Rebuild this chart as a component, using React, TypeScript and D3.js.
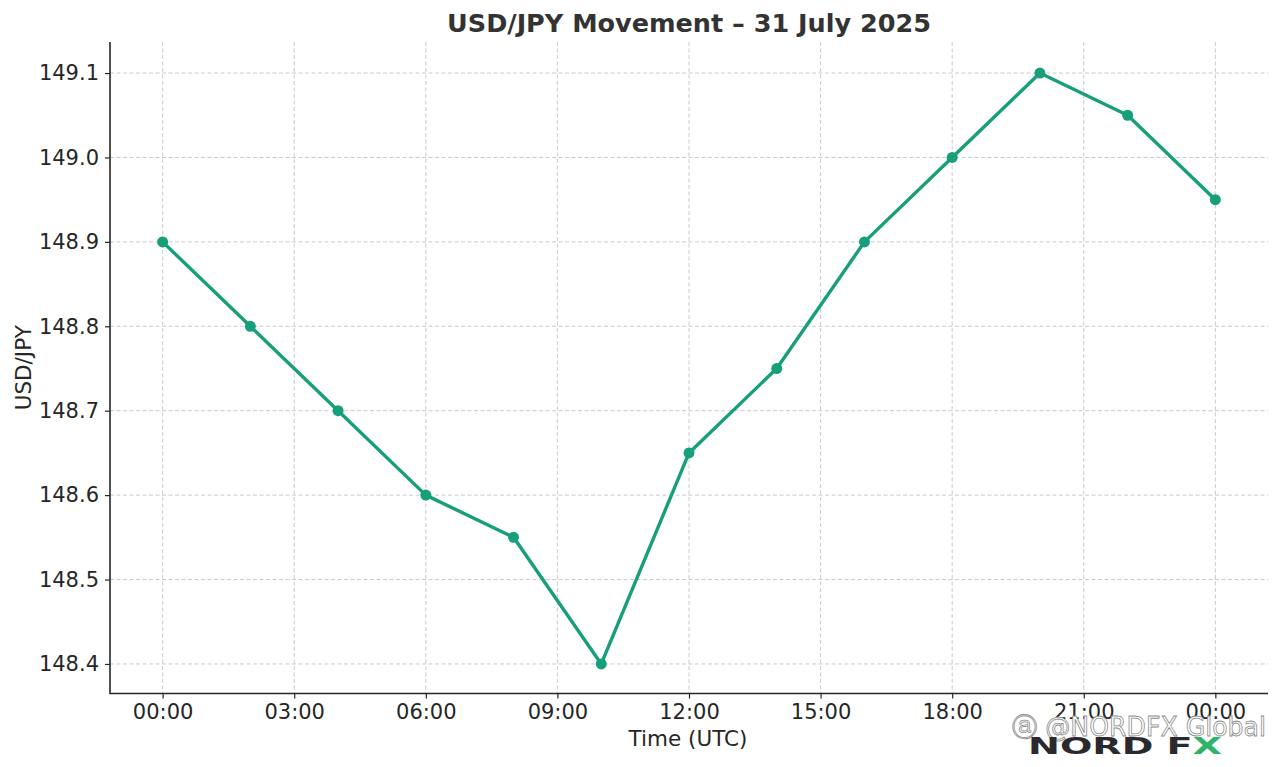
import React, { useEffect, useRef } from "react";
import * as d3 from "d3";

// hours since 00:00 UTC, 31 July
const hours = [0, 2, 4, 6, 8, 10, 12, 14, 16, 18, 20, 22, 24];
const rates = [148.9, 148.8, 148.7, 148.6, 148.55, 148.4, 148.65, 148.75, 148.9, 149.0, 149.1, 149.05, 148.95];

const xTickHours = [0, 3, 6, 9, 12, 15, 18, 21, 24];
const xTickLabels = ["00:00", "03:00", "06:00", "09:00", "12:00", "15:00", "18:00", "21:00", "00:00"];
const yTicks = [148.4, 148.5, 148.6, 148.7, 148.8, 148.9, 149.0, 149.1];

const LINE = "#179e7b";
const INK = "#262626";
const FONT = "'DejaVu Sans', sans-serif";

export default function App() {
  const svgRef = useRef<SVGSVGElement>(null);

  useEffect(() => {
    if (!svgRef.current) return;
    const svg = d3.select(svgRef.current);
    svg.selectAll("*").remove();

    const W = 1280;
    const H = 767;
    const plot = { left: 110, right: 1268, top: 42, bottom: 693.5 };

    // matplotlib-like 5% padding around the data
    const xPad = (24 - 0) * 0.05;
    const x = d3.scaleLinear().domain([0 - xPad, 24 + xPad]).range([plot.left, plot.right]);
    const yMin = d3.min(rates)!;
    const yMax = d3.max(rates)!;
    const yPad = (yMax - yMin) * 0.05;
    const y = d3.scaleLinear().domain([yMin - yPad, yMax + yPad]).range([plot.bottom, plot.top + 1.5]);

    svg.attr("width", W).attr("height", H).style("background", "#fff");

    // grid
    const grid = svg.append("g");
    grid.selectAll(".gx")
      .data(xTickHours)
      .join("line")
      .attr("x1", (d) => x(d)).attr("x2", (d) => x(d))
      .attr("y1", plot.top).attr("y2", plot.bottom)
      .attr("stroke", "#c4c4c4").attr("stroke-width", 0.9).attr("stroke-dasharray", "4,2.5");
    grid.selectAll(".gy")
      .data(yTicks)
      .join("line")
      .attr("x1", plot.left).attr("x2", plot.right)
      .attr("y1", (d) => y(d)).attr("y2", (d) => y(d))
      .attr("stroke", "#c4c4c4").attr("stroke-width", 0.9).attr("stroke-dasharray", "4,2.5");

    // axes
    const xAxis = d3.axisBottom(x)
      .tickValues(xTickHours)
      .tickSize(5)
      .tickPadding(6)
      .tickFormat((_, i) => xTickLabels[i]);
    const gx = svg.append("g").attr("transform", `translate(0,${plot.bottom})`).call(xAxis);
    gx.select(".domain").remove();
    gx.selectAll("line").attr("stroke", INK).attr("stroke-width", 1.2);
    gx.selectAll("text").attr("fill", INK).style("font-family", FONT).style("font-size", "21px");

    const yAxis = d3.axisLeft(y)
      .tickValues(yTicks)
      .tickSize(5)
      .tickPadding(6)
      .tickFormat((d) => (d as number).toFixed(1));
    const gy = svg.append("g").attr("transform", `translate(${plot.left},0)`).call(yAxis);
    gy.select(".domain").remove();
    gy.selectAll("line").attr("stroke", INK).attr("stroke-width", 1.2);
    gy.selectAll("text").attr("fill", INK).style("font-family", FONT).style("font-size", "21px");

    // spines (left + bottom only)
    svg.append("path")
      .attr("d", `M${plot.left},${plot.top}V${plot.bottom}H${plot.right}`)
      .attr("fill", "none").attr("stroke", INK).attr("stroke-width", 1.6);

    // line + markers
    const pts = hours.map((h, i) => [h, rates[i]] as [number, number]);
    svg.append("path")
      .datum(pts)
      .attr("fill", "none")
      .attr("stroke", LINE)
      .attr("stroke-width", 3.4)
      .attr("stroke-linejoin", "round")
      .attr("d", d3.line<[number, number]>().x((d) => x(d[0])).y((d) => y(d[1])));
    svg.append("g")
      .selectAll("circle")
      .data(pts)
      .join("circle")
      .attr("cx", (d) => x(d[0]))
      .attr("cy", (d) => y(d[1]))
      .attr("r", 5.5)
      .attr("fill", LINE);

    // titles
    svg.append("text")
      .attr("x", 689)
      .attr("y", 32)
      .attr("text-anchor", "middle")
      .attr("fill", "#333")
      .style("font-family", FONT)
      .style("font-weight", "bold")
      .style("font-size", "25.5px")
      .text("USD/JPY Movement – 31 July 2025");
    svg.append("text")
      .attr("x", 688)
      .attr("y", 746)
      .attr("text-anchor", "middle")
      .attr("fill", INK)
      .style("font-family", FONT)
      .style("font-size", "21.5px")
      .text("Time (UTC)");
    svg.append("text")
      .attr("transform", `translate(31,${(plot.top + plot.bottom) / 2}) rotate(-90)`)
      .attr("text-anchor", "middle")
      .attr("fill", INK)
      .style("font-family", FONT)
      .style("font-size", "21.5px")
      .text("USD/JPY");

    // watermark
    svg.append("text")
      .attr("x", 1012)
      .attr("y", 736)
      .attr("textLength", 254)
      .attr("lengthAdjust", "spacingAndGlyphs")
      .attr("fill", "#fff")
      .attr("stroke", "#8a8a8a")
      .attr("stroke-width", 0.8)
      .style("font-family", FONT)
      .style("font-size", "26px")
      .text("ⓐ @NORDFX Global");
    const logo = svg.append("text")
      .attr("x", 1028)
      .attr("y", 754)
      .attr("textLength", 194)
      .attr("lengthAdjust", "spacingAndGlyphs")
      .style("font-family", "'DejaVu Sans', sans-serif")
      .style("font-weight", "bold")
      .style("font-size", "23px");
    logo.append("tspan").attr("fill", "#2a2a2e").text("NORD F");
    logo.append("tspan").attr("fill", "#2fb36b").text("X");
  }, []);

  return (
    <svg
      ref={svgRef}
      style={{ position: "absolute", left: 0, top: 0, display: "block" }}
    />
  );
}
